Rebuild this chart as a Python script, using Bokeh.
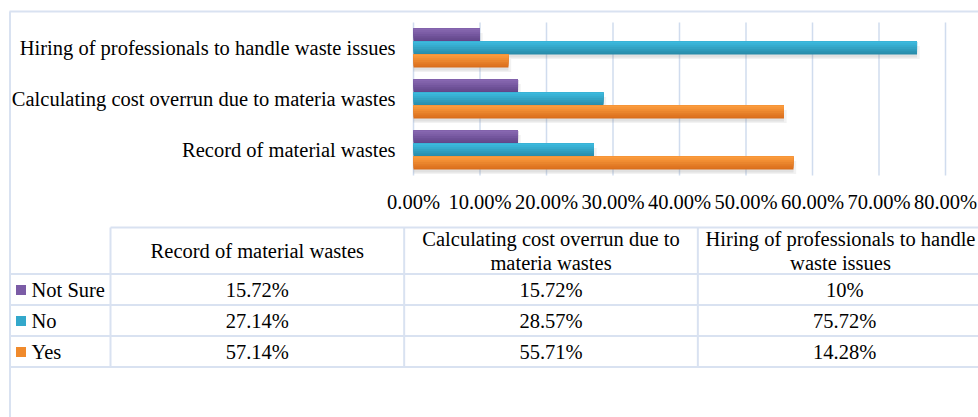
from bokeh.plotting import figure
from bokeh.models import ColumnDataSource, Range1d
from bokeh.transform import dodge
from bokeh.embed import file_html
from bokeh.resources import INLINE
from bokeh.core.properties import value

# ---------------- data ----------------
categories = ["Record of material wastes",
              "Calculating cost overrun due to materia wastes",
              "Hiring of professionals to handle waste issues"]
series_names = ["Not Sure", "No", "Yes"]
not_sure = [0.1572, 0.1572, 0.10]
no = [0.2714, 0.2857, 0.7572]
yes = [0.5714, 0.5571, 0.1428]
x_ticks = [0.0, 0.1, 0.2, 0.3, 0.4, 0.5, 0.6, 0.7, 0.8]
x_tick_labels = ["0.00%", "10.00%", "20.00%", "30.00%", "40.00%",
                 "50.00%", "60.00%", "70.00%", "80.00%"]
table_headers = [["Record of material wastes"],
                 ["Calculating cost overrun due to", "materia wastes"],
                 ["Hiring of professionals to handle", "waste issues"]]

# ---------------- style / layout ----------------
W, Hh = 978, 417
FONT = "Liberation Serif"
FS = "20.5px"
BORDER = "#d9e2f1"
GRID = "#d0dcee"
TEXT = "#000000"
bar_colors = {"Not Sure": ("#62468a", "#8767b1"),
              "No": ("#2a8dab", "#3cb9dd"),
              "Yes": ("#da6f1d", "#fb9b3d")}
key_colors = {"Not Sure": "#7b5ca6", "No": "#33a8cb", "Yes": "#f08a2c"}

PX0, PX_PER_UNIT = 413.0, 665.0     # x: value 0 position and pixels per 100 %
PY0, PY_PER_CAT = 175.0, 51.0       # y: bottom of the category band and band height


def X(px):
    return (px - PX0) / PX_PER_UNIT


def Y(py):
    return (PY0 - py) / PY_PER_CAT


def mix(c1, c2, t):
    a = [int(c1[i:i + 2], 16) for i in (1, 3, 5)]
    b = [int(c2[i:i + 2], 16) for i in (1, 3, 5)]
    return "#%02x%02x%02x" % tuple(round(a[i] + (b[i] - a[i]) * t) for i in range(3))


values_by_series = {"Not Sure": not_sure, "No": no, "Yes": yes}
fields = {"Not Sure": "not_sure", "No": "no", "Yes": "yes"}

src = ColumnDataSource(dict(cat=categories,
                            pos=[i + 0.5 for i in range(len(categories))],
                            not_sure=not_sure, no=no, yes=yes,
                            not_sure_sh=[v + 0.004 for v in not_sure],
                            no_sh=[v + 0.004 for v in no],
                            yes_sh=[v + 0.004 for v in yes]))

p = figure(width=W, height=Hh, output_backend="svg", toolbar_location=None,
           x_range=Range1d(X(0), X(W)), y_range=Range1d(Y(Hh), Y(0)),
           min_border=0, x_axis_location=None, y_axis_location=None)
p.outline_line_color = None
p.grid.grid_line_color = None
p.background_fill_color = "white"
p.border_fill_color = "white"

# outer chart border (top + left)
p.segment(x0=[X(9), X(9.5)], y0=[Y(11), Y(11)], x1=[X(W + 10), X(9.5)], y1=[Y(11), Y(Hh + 10)],
          line_color=BORDER, line_width=2)

# vertical gridlines of the bar chart
ncat = len(categories)
p.segment(x0=x_ticks, y0=[0] * len(x_ticks), x1=x_ticks, y1=[ncat] * len(x_ticks),
          line_color=GRID, line_width=1.5)

# ---------------- bars ----------------
BH = 0.255
offsets = {"Not Sure": BH, "No": 0.0, "Yes": -BH}

for s in series_names:
    off = offsets[s]
    p.hbar(y=dodge("pos", off - 0.09), left=0, right=fields[s] + "_sh",
           height=BH, fill_color="#808080", fill_alpha=0.10, line_color=None, source=src)
    p.hbar(y=dodge("pos", off - 0.06), left=0, right=fields[s],
           height=BH, fill_color="#808080", fill_alpha=0.14, line_color=None, source=src)

N = 7
for s in series_names:
    off = offsets[s]
    top = off + BH / 2
    c_bot, c_top = bar_colors[s]
    for k in range(N):
        hk = BH * (N - k) / N
        c = mix(c_bot, c_top, k / (N - 1))
        p.hbar(y=dodge("pos", top - hk / 2), left=0, right=fields[s],
               height=hk, fill_color=c, line_color=None, source=src)

# category labels and value-axis tick labels
p.text(x=X(395), y="pos", text="cat", source=src,
       text_font=value(FONT), text_font_size=value(FS), text_align="right",
       text_baseline="middle", text_color=TEXT)
p.text(x=x_ticks, y=[Y(201)] * len(x_ticks), text=x_tick_labels,
       text_font=value(FONT), text_font_size=value(FS), text_align="center",
       text_baseline="middle", text_color=TEXT)

# ---------------- data table ----------------
COL0, COLW = 110.0, 293.67
T_TOP, HDR_BOT, ROWH = 227.0, 273.5, 31.0
n_rows = len(series_names)
row_lines = [HDR_BOT + r * ROWH for r in range(n_rows + 1)]
col_lines = [COL0 + c * COLW for c in range(ncat)]

hx0 = [X(COL0)] + [X(9.5)] * len(row_lines)
hy = [Y(T_TOP)] + [Y(v) for v in row_lines]
p.segment(x0=hx0, y0=hy, x1=[X(W + 20)] * len(hy), y1=hy, line_color=BORDER, line_width=2)
p.segment(x0=[X(v) for v in col_lines], y0=[Y(T_TOP)] * ncat,
          x1=[X(v) for v in col_lines], y1=[Y(row_lines[-1])] * ncat,
          line_color=BORDER, line_width=2)

col_centers = [COL0 + COLW * (i + 0.5) for i in range(ncat)]
col_centers[-1] = min(col_centers[-1], 840.0)   # keep the clipped header inside the page
hxs, hys, htxt = [], [], []
for i, lines in enumerate(table_headers):
    n = len(lines)
    for j, ln in enumerate(lines):
        hxs.append(X(col_centers[i]))
        hys.append(Y(250 + (j - (n - 1) / 2) * 24))
        htxt.append(ln)
p.text(x=hxs, y=hys, text=htxt, text_font=value(FONT), text_font_size=value(FS),
       text_align="center", text_baseline="middle", text_color=TEXT)

cxs, cys, ctxt = [], [], []
for r, s in enumerate(series_names):
    for i, v in enumerate(values_by_series[s]):
        cxs.append(X(COL0 + COLW * (i + 0.5)))
        cys.append(Y(HDR_BOT + ROWH * (r + 0.5) + 0.5))
        ctxt.append("%g%%" % round(v * 100, 2))
p.text(x=cxs, y=cys, text=ctxt, text_font=value(FONT), text_font_size=value(FS),
       text_align="center", text_baseline="middle", text_color=TEXT)

ky = [Y(HDR_BOT + ROWH * (r + 0.5) + 0.5) for r in range(n_rows)]
p.scatter(x=[X(20.5)] * n_rows, y=ky, marker="square", size=10,
          fill_color=[key_colors[s] for s in series_names], line_color=None)
p.text(x=[X(31)] * n_rows, y=ky, text=series_names, text_font=value(FONT),
       text_font_size=value(FS), text_align="left", text_baseline="middle",
       text_color=TEXT)

html = file_html(p, INLINE)
html = html.replace("</head>", "<style>html,body{margin:0;padding:0;overflow:hidden}</style></head>", 1)
open("out.html", "w").write(html)
